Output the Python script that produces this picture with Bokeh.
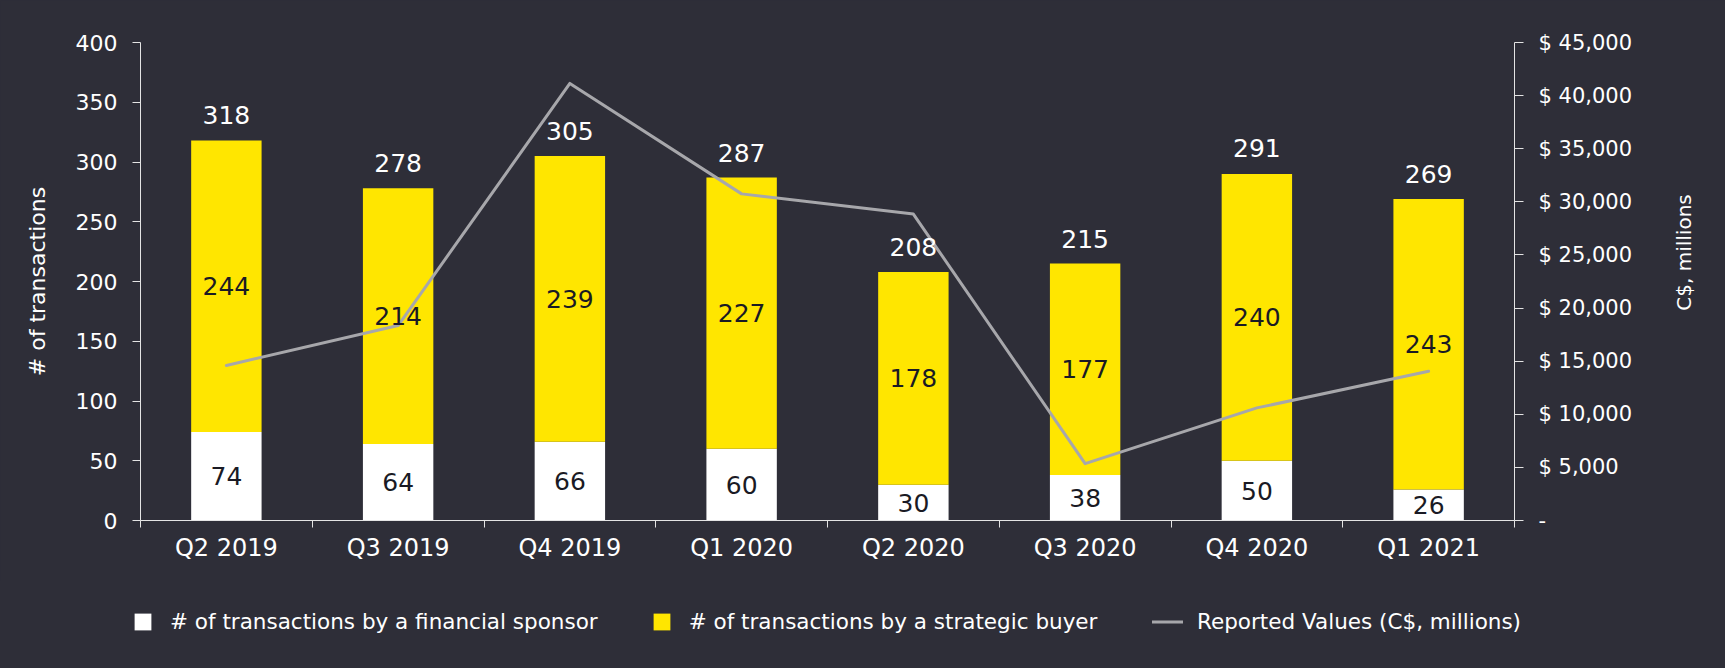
import math
from bokeh.plotting import figure
from bokeh.models import (ColumnDataSource, Range1d, LinearAxis, FixedTicker,
                          Legend, LegendItem, Label)
from bokeh.core.properties import value
from bokeh.embed import file_html
from bokeh.resources import INLINE

# ---------------- data ----------------
quarters = ["Q2 2019", "Q3 2019", "Q4 2019", "Q1 2020",
            "Q2 2020", "Q3 2020", "Q4 2020", "Q1 2021"]
financial = [74, 64, 66, 60, 30, 38, 50, 26]
strategic = [244, 214, 239, 227, 178, 177, 240, 243]
totals = [318, 278, 305, 287, 208, 215, 291, 269]
reported = [14600, 18350, 41150, 30750, 28850, 5350, 10600, 14050]

left_ticks = [0, 50, 100, 150, 200, 250, 300, 350, 400]
right_ticks = [0, 5000, 10000, 15000, 20000, 25000, 30000, 35000, 40000, 45000]
right_labels = ["-", "$ 5,000", "$ 10,000", "$ 15,000", "$ 20,000", "$ 25,000",
                "$ 30,000", "$ 35,000", "$ 40,000", "$ 45,000"]
left_title = "# of transactions"
right_title = "C$, millions"
legend_labels = ["# of transactions by a financial sponsor",
                 "# of transactions by a strategic buyer",
                 "Reported Values (C$, millions)"]

# ---------------- styles ----------------
BG = "#2e2e38"
YELLOW = "#ffe600"
WHITE = "#ffffff"
LINE = "#a7a7ab"
AXIS = "#e4e4e4"
FONT = "DejaVu Sans"

xs = [i + 0.5 for i in range(len(quarters))]
boundaries = list(range(len(quarters) + 1))

src = ColumnDataSource(dict(
    x=xs,
    fin=financial,
    strat=strategic,
    top=[f + s for f, s in zip(financial, strategic)],
    fin_mid=[f / 2 for f in financial],
    strat_mid=[f + s / 2 for f, s in zip(financial, strategic)],
    total=totals,
    total_label=[str(t) for t in totals],
    fin_label=[str(f) for f in financial],
    strat_label=[str(s) for s in strategic],
    reported=reported,
))

FRAME_L, FRAME_R = 140, 1514
p = figure(width=1725, height=580,
           x_range=Range1d(0, len(quarters)), y_range=Range1d(0, 400),
           output_backend="svg", toolbar_location=None,
           background_fill_color=BG, border_fill_color=BG,
           outline_line_color=None,
           min_border_left=FRAME_L, min_border_right=1725 - FRAME_R,
           min_border_top=42, min_border_bottom=60)
p.grid.visible = False

p.extra_y_ranges = {"usd": Range1d(0, 45000)}

p.vbar(x="x", bottom=0, top="fin", width=0.41, source=src,
       fill_color=WHITE, line_color=None)
p.vbar(x="x", bottom="fin", top="top", width=0.41, source=src,
       fill_color=YELLOW, line_color=None)
p.line(x="x", y="reported", source=src, y_range_name="usd",
       line_color=LINE, line_width=3, line_join="round", line_cap="round")

# labels
p.text(x="x", y="total", text="total_label", source=src,
       text_font=value(FONT), text_font_size="25px", text_color=WHITE,
       text_align="center", text_baseline="alphabetic", y_offset=-25)
p.text(x="x", y="fin_mid", text="fin_label", source=src,
       text_font=value(FONT), text_font_size="25px", text_color="#1a1a24",
       text_align="center", text_baseline="middle")
p.text(x="x", y="strat_mid", text="strat_label", source=src,
       text_font=value(FONT), text_font_size="25px", text_color="#1a1a24",
       text_align="center", text_baseline="middle")

# x axis
xa = p.xaxis[0]
xa.ticker = FixedTicker(ticks=xs, minor_ticks=boundaries)
xa.major_label_overrides = {x: q for x, q in zip(xs, quarters)}
xa.major_tick_line_color = None
xa.major_tick_out = 0
xa.major_tick_in = 0
xa.minor_tick_out = 7
xa.minor_tick_in = 0
xa.minor_tick_line_color = AXIS
xa.axis_line_color = AXIS
xa.major_label_text_color = WHITE
xa.major_label_text_font = FONT
xa.major_label_text_font_size = "24px"
xa.major_label_standoff = 6

# left axis
ya = p.yaxis[0]
ya.ticker = FixedTicker(ticks=left_ticks)
ya.major_tick_out = 8
ya.major_tick_in = 0
ya.minor_tick_line_color = None
ya.major_tick_line_color = AXIS
ya.axis_line_color = AXIS
ya.major_label_text_color = WHITE
ya.major_label_text_font = FONT
ya.major_label_text_font_size = "22px"
ya.major_label_standoff = 15
ya.axis_label = left_title
ya.axis_label_text_color = WHITE
ya.axis_label_text_font = FONT
ya.axis_label_text_font_size = "22px"
ya.axis_label_text_font_style = "normal"
ya.axis_label_standoff = 23

# right axis
ra = LinearAxis(y_range_name="usd", ticker=FixedTicker(ticks=right_ticks),
                major_label_overrides={t: l for t, l in zip(right_ticks, right_labels)})
ra.major_tick_out = 9
ra.major_tick_in = 0
ra.minor_tick_line_color = None
ra.major_tick_line_color = AXIS
ra.axis_line_color = AXIS
ra.major_label_text_color = WHITE
ra.major_label_text_font = FONT
ra.major_label_text_font_size = "21px"
ra.major_label_standoff = 15
p.add_layout(ra, "right")

# right axis title in the right side panel: horizontal position expressed through
# the x scale (169 px right of the frame edge), vertical in screen px above frame bottom
px_per_unit = (FRAME_R - FRAME_L) / len(quarters)
p.add_layout(Label(x=len(quarters) + 169 / px_per_unit, y=268,
                   x_units="data", y_units="screen",
                   text=right_title, angle=math.pi / 2,
                   text_align="center", text_baseline="middle",
                   text_color=WHITE, text_font=FONT, text_font_size="20px"), "right")

# ---------------- legend strip (separate root, full-width frame) ----------------
lg = figure(width=1725, height=88, x_range=Range1d(-2, -1), y_range=Range1d(-2, -1),
            output_backend="svg", toolbar_location=None,
            x_axis_type=None, y_axis_type=None,
            background_fill_color=BG, border_fill_color=BG,
            outline_line_color=None, min_border=0,
            min_border_left=0, min_border_right=0,
            min_border_top=0, min_border_bottom=0)
lg.grid.visible = False
# proxies outside this strip's ranges, used only for the legend swatches
d_fin = lg.vbar(x="x", top="fin", width=0.41, source=src, fill_color=WHITE, line_color=None)
d_str = lg.vbar(x="x", bottom="fin", top="top", width=0.41, source=src,
                fill_color=YELLOW, line_color=None)
d_line = lg.line(x="x", y="reported", source=src, line_color=LINE, line_width=3,
                 line_cap="round")

common = dict(orientation="horizontal", padding=0, margin=0,
              border_line_color=None, background_fill_alpha=0,
              label_text_color=WHITE, label_text_font=FONT,
              label_text_font_size="21.5px")
leg1 = Legend(items=[LegendItem(label=legend_labels[0], renderers=[d_fin]),
                     LegendItem(label=legend_labels[1], renderers=[d_str])],
              location=(132, 34), glyph_width=21, glyph_height=21,
              label_standoff=17, spacing=53, **common)
leg2 = Legend(items=[LegendItem(label=legend_labels[2], renderers=[d_line])],
              location=(1152, 34), glyph_width=31, glyph_height=21,
              label_standoff=14, **common)
lg.add_layout(leg1)
lg.add_layout(leg2)

html = file_html([p, lg], INLINE)
html = html.replace("</head>", "<style>html,body{background:#2e2e38;}</style></head>", 1)
open("out.html", "w").write(html)
